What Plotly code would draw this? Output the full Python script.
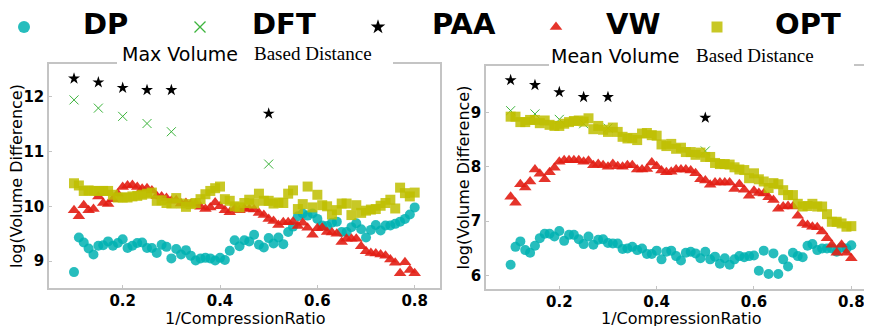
import plotly.graph_objects as go

# ---------------- data ----------------
x = [0.10, 0.11, 0.12, 0.13, 0.14, 0.15, 0.16, 0.17, 0.18, 0.19,
     0.20, 0.21, 0.22, 0.23, 0.24, 0.25, 0.26, 0.27, 0.28, 0.29,
     0.30, 0.31, 0.32, 0.33, 0.34, 0.35, 0.36, 0.37, 0.38, 0.39,
     0.40, 0.41, 0.42, 0.43, 0.44, 0.45, 0.46, 0.47, 0.48, 0.49,
     0.50, 0.51, 0.52, 0.53, 0.54, 0.55, 0.56, 0.57, 0.58, 0.59,
     0.60, 0.61, 0.62, 0.63, 0.64, 0.65, 0.66, 0.67, 0.68, 0.69,
     0.70, 0.71, 0.72, 0.73, 0.74, 0.75, 0.76, 0.77, 0.78, 0.79, 0.80]
x_sparse = [0.10, 0.15, 0.20, 0.25, 0.30, 0.50]

# Max Volume Based Distance
dp_max = [8.80, 9.43, 9.34, 9.23, 9.12, 9.28, 9.29, 9.36, 9.28, 9.33,
          9.40, 9.24, 9.28, 9.33, 9.34, 9.24, 9.24, 9.15, 9.30, 9.26,
          9.05, 9.22, 9.12, 9.20, 9.10, 9.01, 9.05, 9.06, 9.05, 9.01,
          9.06, 9.02, 9.19, 9.38, 9.27, 9.38, 9.36, 9.48, 9.30, 9.25,
          9.42, 9.32, 9.43, 9.31, 9.53, 9.63, 9.82, 9.87, 9.83, 9.87,
          9.77, 9.65, 9.64, 9.70, 9.72, 9.53, 9.53, 9.62, 9.69, 9.58,
          9.43, 9.57, 9.66, 9.56, 9.65, 9.65, 9.68, 9.72, 9.77, 9.85, 9.98]
vw_max = [9.93, 9.82, 10.02, 9.93, 9.95, 10.18, 10.06, 10.04, 10.13, 10.23,
          10.35, 10.38, 10.39, 10.35, 10.32, 10.33, 10.29, 10.19, 10.18, 10.15,
          10.10, 10.11, 10.05, 10.06, 10.04, 10.05, 9.99, 9.95, 9.98, 10.07,
          10.00, 9.93, 9.89, 9.95, 9.93, 9.96, 9.95, 9.94, 9.88, 9.84,
          9.77, 9.73, 9.66, 9.71, 9.71, 9.72, 9.64, 9.70, 9.61, 9.48,
          9.60, 9.61, 9.53, 9.52, 9.50, 9.35, 9.41, 9.41, 9.41, 9.27,
          9.18, 9.15, 9.14, 9.12, 9.10, 9.03, 8.97, 8.78, 8.98, 8.84, 8.78]
opt_max = [10.42, 10.38, 10.28, 10.29, 10.28, 10.28, 10.28, 10.28, 10.21, 10.16,
           10.16, 10.16, 10.18, 10.19, 10.21, 10.23, 10.25, 10.10, 10.11, 10.06,
           10.05, 10.15, 10.05, 9.99, 10.04, 10.06, 10.13, 10.22, 10.28, 10.33,
           10.36, 10.13, 10.10, 10.00, 9.98, 10.06, 10.12, 10.05, 10.23, 10.10,
           10.10, 10.05, 10.07, 10.06, 10.23, 10.29, 9.95, 10.04, 10.36, 9.98,
           10.21, 10.02, 10.00, 9.85, 9.93, 10.05, 10.05, 9.84, 10.02, 9.88,
           9.92, 9.94, 9.95, 10.01, 10.06, 10.12, 9.96, 10.34, 10.24, 10.18, 10.25]
dft_max = [11.94, 11.79, 11.64, 11.51, 11.36, 10.77]
paa_max = [12.33, 12.26, 12.16, 12.12, 12.12, 11.69]

# Mean Volume Based Distance
dp_mean = [6.20, 6.53, 6.63, 6.47, 6.42, 6.55, 6.69, 6.77, 6.77, 6.72,
           6.82, 6.64, 6.75, 6.75, 6.67, 6.58, 6.72, 6.57, 6.66, 6.67,
           6.60, 6.59, 6.59, 6.49, 6.50, 6.53, 6.47, 6.50, 6.40, 6.40,
           6.46, 6.30, 6.44, 6.46, 6.36, 6.28, 6.42, 6.44, 6.41, 6.32,
           6.44, 6.30, 6.35, 6.22, 6.32, 6.20, 6.30, 6.36, 6.34, 6.36,
           6.37, 6.09, 6.46, 6.03, 6.41, 6.03, 6.30, 6.17, 6.42, 6.36,
           6.34, 6.55, 6.58, 6.47, 6.50, 6.50, 6.50, 6.44, 6.52, 6.50, 6.56]
vw_mean = [7.45, 7.34, 7.68, 7.62, 7.73, 7.95, 7.87, 7.77, 7.90, 7.98,
           8.09, 8.12, 8.12, 8.12, 8.12, 8.09, 8.11, 8.03, 8.05, 8.03,
           8.00, 8.05, 8.01, 8.00, 8.03, 8.03, 7.95, 7.95, 7.96, 8.08,
           8.01, 7.93, 7.90, 7.91, 7.95, 7.95, 7.95, 7.93, 7.88, 7.77,
           7.75, 7.67, 7.71, 7.71, 7.71, 7.71, 7.59, 7.68, 7.58, 7.47,
           7.56, 7.52, 7.51, 7.44, 7.39, 7.23, 7.27, 7.28, 7.27, 7.10,
           6.96, 6.93, 6.90, 6.89, 6.81, 6.69, 6.57, 6.42, 6.57, 6.42, 6.32]
opt_mean = [8.92, 8.92, 8.82, 8.82, 8.86, 8.86, 8.80, 8.85, 8.77, 8.75,
            8.75, 8.79, 8.82, 8.84, 8.85, 8.83, 8.89, 8.69, 8.75, 8.68,
            8.64, 8.72, 8.64, 8.55, 8.52, 8.53, 8.49, 8.61, 8.62, 8.58,
            8.57, 8.41, 8.38, 8.42, 8.33, 8.35, 8.27, 8.27, 8.22, 8.26,
            8.18, 8.18, 8.07, 8.05, 8.05, 8.04, 7.99, 7.95, 7.94, 7.79,
            7.88, 7.77, 7.73, 7.61, 7.70, 7.68, 7.57, 7.48, 7.48, 7.32,
            7.27, 7.28, 7.32, 7.27, 7.27, 7.13, 6.99, 6.99, 6.96, 6.90, 6.91]
dft_mean = [9.03, 8.97, 8.87, 8.79, 8.71, 8.29]
paa_mean = [9.59, 9.50, 9.37, 9.28, 9.28, 8.90]

series_names = ["DP", "DFT", "PAA", "VW", "OPT"]
x_ticks = [0.2, 0.4, 0.6, 0.8]
y_ticks_max = [9, 10, 11, 12]
y_ticks_mean = [6, 7, 8, 9]
title_max = ("Max Volume", "Based Distance")
title_mean = ("Mean Volume", "Based Distance")
x_title = "1/CompressionRatio"
y_title = "log(Volume Difference)"

# ---------------- styling / layout positions ----------------
# The page body has an 8px default margin, so the figure is laid out in
# screen pixels and shifted by that offset.
OFF = 8
SW, SH = 872, 326
W, H = SW - OFF, SH - OFF
def px(v):
    return (v - OFF) / W
def py(v):
    return 1 - (v - OFF) / H

styles = {
    "DP": dict(symbol="circle", size=10, color="rgba(0,178,178,0.85)", line=dict(width=0)),
    "DFT": dict(symbol="x-thin", size=9, color="#3cb43c", line=dict(color="#3cb43c", width=1)),
    "PAA": dict(symbol="star", size=9, color="black", line=dict(width=0)),
    "VW": dict(symbol="triangle-up", size=11, color="rgba(226,30,20,0.9)", line=dict(width=0)),
    "OPT": dict(symbol="square", size=10, color="rgba(190,190,0,0.85)", line=dict(width=0)),
}
legend_sizes = {"DP": 12, "DFT": 11, "PAA": 11, "VW": 11, "OPT": 11}
# legend key positions (screen pixels): symbol centre x, text left x
legend_pos = {"DP": (24, 81), "DFT": (200, 250), "PAA": (378, 430),
              "VW": (556, 604), "OPT": (717, 773)}
legend_sym_y = 27
legend_text_y = 24
LEG_BOTTOM = 44  # bottom (screen px) of the legend strip axis

fig = go.Figure()
panels = [
    ("x", "y", dp_max, dft_max, paa_max, vw_max, opt_max),
    ("x2", "y2", dp_mean, dft_mean, paa_mean, vw_mean, opt_mean),
]
for xa, ya, dp, dft, paa, vw, opt in panels:
    for name, xs, ys in [("DP", x, dp), ("DFT", x_sparse, dft), ("PAA", x_sparse, paa),
                         ("VW", x, vw), ("OPT", x, opt)]:
        fig.add_trace(go.Scatter(x=xs, y=ys, mode="markers", name=name,
                                 marker=styles[name], xaxis=xa, yaxis=ya,
                                 showlegend=False, legendgroup=name))

# legend keys drawn on a pixel-scaled strip axis across the top
for name in series_names:
    m = dict(styles[name])
    m["size"] = legend_sizes[name]
    if name == "DFT":
        m["line"] = dict(color="#3cb43c", width=1.3)
    cx, tx = legend_pos[name]
    fig.add_trace(go.Scatter(x=[cx], y=[legend_sym_y], mode="markers", marker=m,
                             xaxis="x3", yaxis="y3", showlegend=False,
                             hoverinfo="skip", name=name))
    fig.add_annotation(text=name, xref="paper", yref="paper", x=px(tx), y=py(legend_text_y),
                       xanchor="left", yanchor="middle", showarrow=False,
                       font=dict(family="DejaVu Sans", size=29, color="black", weight="bold"))

frame = "#c4c4c4"
tickfont = dict(family="DejaVu Sans", size=15, color="black", weight="bold")
titlefont = dict(family="DejaVu Sans", size=16, color="black")
common_x = dict(tickvals=x_ticks, ticktext=[f"{t:.1f}" for t in x_ticks],
                showgrid=False, zeroline=False, showline=True, linecolor=frame,
                linewidth=1.5, ticks="inside", ticklen=3, tickcolor=frame,
                tickfont=tickfont, ticklabelstandoff=-2)
common_y = dict(showgrid=False, zeroline=False, showline=True, linecolor=frame,
                linewidth=1.5, ticks="inside", ticklen=3, tickcolor=frame,
                tickfont=tickfont)

fig.update_layout(
    width=W, height=H,
    margin=dict(l=0, r=0, t=0, b=0, autoexpand=False),
    plot_bgcolor="rgba(0,0,0,0)", paper_bgcolor="white",
    showlegend=False,
    xaxis=dict(domain=[px(49), px(440)], range=[0.0486, 0.852], mirror=True, anchor="y", **common_x),
    yaxis=dict(domain=[py(288), py(64)], range=[8.51, 12.595], tickvals=y_ticks_max,
               mirror=True, anchor="x", **common_y),
    xaxis2=dict(domain=[px(486), 1.0], range=[0.0494, 0.8425], mirror=True, anchor="y2", **common_x),
    yaxis2=dict(domain=[py(289), py(66)], range=[5.756, 9.85], tickvals=y_ticks_mean,
                mirror=False, anchor="x2", **common_y),
    xaxis3=dict(domain=[0, 1], range=[OFF, SW], visible=False, anchor="y3", fixedrange=True),
    yaxis3=dict(domain=[py(LEG_BOTTOM), 1], range=[LEG_BOTTOM, OFF], visible=False,
                anchor="x3", fixedrange=True),
)

# axis titles (placed as annotations for exact positioning)
for xc in (244.5, 680.5):
    fig.add_annotation(text=x_title, xref="paper", yref="paper", x=px(xc), y=py(318.5),
                       xanchor="center", yanchor="middle", showarrow=False, font=titlefont)
for xc, yc in ((16, 176), (462.5, 177)):
    fig.add_annotation(text=y_title, xref="paper", yref="paper", x=px(xc), y=py(yc),
                       xanchor="center", yanchor="middle", showarrow=False,
                       textangle=-90, font=titlefont)

# title backgrounds breaking the top frame line, and the titles
for (x0, x1, y0, y1) in [(117, 393, 42, 68), (549, 854, 44, 70)]:
    fig.add_shape(type="rect", xref="paper", yref="paper", x0=px(x0), x1=px(x1),
                  y0=py(y1), y1=py(y0), fillcolor="white", line=dict(width=0), layer="above")

for (t, xr, xl, yc) in [(title_max, 240, 252, 54), (title_mean, 681, 694, 56)]:
    fig.add_annotation(text=t[0], xref="paper", yref="paper", x=px(xr), y=py(yc),
                       xanchor="right", yanchor="middle", showarrow=False,
                       font=dict(family="DejaVu Sans", size=19, color="black"))
    fig.add_annotation(text=t[1], xref="paper", yref="paper", x=px(xl), y=py(yc),
                       xanchor="left", yanchor="middle", showarrow=False,
                       font=dict(family="Liberation Serif", size=19, color="black"))

fig.write_html("out.html")
